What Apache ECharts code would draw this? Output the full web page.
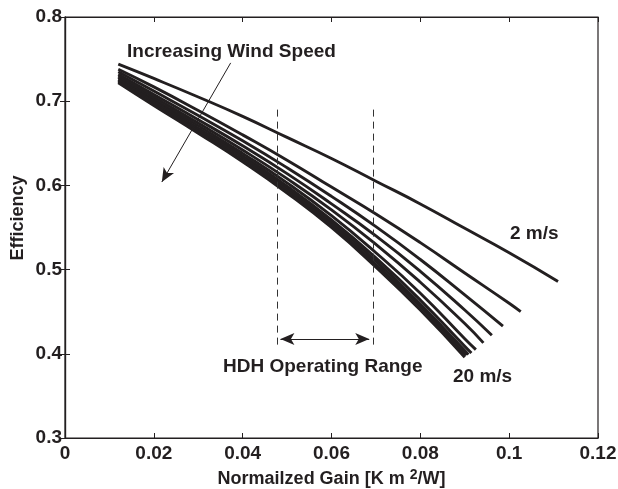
<!DOCTYPE html>
<html>
<head>
<meta charset="utf-8">
<script src="https://cdn.jsdelivr.net/npm/echarts@6/dist/echarts.min.js"></script>
<style>
  html, body { margin: 0; padding: 0; background: #fff; }
  #chart { width: 618px; height: 489px; }
</style>
</head>
<body>
<div id="chart"></div>
<script>
const gain = [0.012, 0.02, 0.03, 0.04, 0.05, 0.06, 0.07, 0.08, 0.09, 0.10]
const windSpeeds = ['2 m/s', '4 m/s', '6 m/s', '8 m/s', '10 m/s', '12 m/s', '14 m/s', '16 m/s', '18 m/s', '20 m/s']
const eff2 = [0.744, 0.727, 0.705, 0.682, 0.657, 0.632, 0.605, 0.578, 0.549, 0.520]
const eff4 = [0.738, 0.717, 0.689, 0.660, 0.630, 0.598, 0.566, 0.532, 0.496, 0.460]
const eff6 = [0.735, 0.712, 0.683, 0.653, 0.621, 0.587, 0.551, 0.512, 0.470]
const eff8 = [0.732, 0.708, 0.678, 0.647, 0.614, 0.578, 0.540, 0.498, 0.452]
const eff10 = [0.730, 0.705, 0.674, 0.642, 0.608, 0.571, 0.530, 0.485, 0.436]
const eff12 = [0.728, 0.702, 0.671, 0.638, 0.603, 0.564, 0.520, 0.472, 0.418]
const eff14 = [0.726, 0.700, 0.668, 0.635, 0.599, 0.559, 0.514, 0.464, 0.409]
const eff16 = [0.725, 0.699, 0.666, 0.633, 0.596, 0.556, 0.510, 0.459, 0.404]
const eff18 = [0.723, 0.697, 0.664, 0.630, 0.594, 0.553, 0.506, 0.456, 0.400]
const eff20 = [0.722, 0.695, 0.662, 0.628, 0.591, 0.550, 0.503, 0.452]
// last point of every curve
const endGain = [0.111, 0.1026, 0.0986, 0.0961, 0.0942, 0.0925, 0.0915, 0.0908, 0.0903, 0.090]
const endEff = [0.486, 0.450, 0.433, 0.422, 0.413, 0.405, 0.401, 0.399, 0.398, 0.396]
// HDH operating range
const rangeLo = 0.0477
const rangeHi = 0.0693

const allEff = [eff2, eff4, eff6, eff8, eff10, eff12, eff14, eff16, eff18, eff20]
const ink = '#231f20'
const font = "'Liberation Sans', Arial, Helvetica, sans-serif"

const chart = echarts.init(document.getElementById('chart'))

const curves = allEff.map((eff, k) => {
  const data = eff.map((v, i) => [gain[i], v])
  data.push([endGain[k], endEff[k]])
  return {
    name: windSpeeds[k],
    type: 'line',
    data: data,
    smooth: true,
    showSymbol: false,
    symbol: 'none',
    lineStyle: { color: ink, width: 2.9 },
    z: 3
  }
})

const markers = {
  type: 'line',
  data: [],
  markLine: {
    silent: true,
    animation: false,
    label: { show: false },
    symbol: ['none', 'none'],
    lineStyle: { color: '#333', width: 1, type: [7, 5] },
    data: [
      [{ coord: [rangeLo, 0.69] }, { coord: [rangeLo, 0.407] }],
      [{ coord: [rangeHi, 0.69] }, { coord: [rangeHi, 0.407] }]
    ]
  }
}

const arrows = {
  type: 'line',
  data: [],
  markLine: {
    silent: true,
    animation: false,
    label: { show: false },
    symbol: ['arrow', 'arrow'],
    symbolSize: [9, 14],
    lineStyle: { color: ink, width: 1, type: 'solid' },
    data: [
      [{ coord: [0.0485, 0.4176] }, { coord: [0.0685, 0.4176] }],
      [{ coord: [0.0373, 0.7455], symbol: 'none' }, { coord: [0.0218, 0.604], symbol: 'arrow' }]
    ]
  }
}

const txt = (text, x, y) => ({
  type: 'text',
  x: x,
  y: y,
  style: { text: text, font: 'bold 19px ' + font, fill: ink, textVerticalAlign: 'middle' }
})

chart.setOption({
  animation: false,
  grid: {
    left: 65, right: 20, top: 17, bottom: 51,
    outerBoundsMode: 'none',
    show: true, borderColor: ink, borderWidth: 1.2
  },
  xAxis: [{
    type: 'value',
    min: 0,
    max: 0.12,
    interval: 0.02,
    name: 'Normailzed Gain [K m {sup|2}/W]',
    nameLocation: 'middle',
    nameGap: 30,
    nameTextStyle: {
      color: ink, fontSize: 18, fontWeight: 'bold', fontFamily: font,
      rich: { sup: { fontSize: 14, fontWeight: 'bold', fontFamily: font, color: ink, padding: [0, 0, 9, 0] } }
    },
    axisLine: { lineStyle: { color: ink, width: 1.2 } },
    axisTick: { inside: true, length: 5, lineStyle: { color: ink } },
    axisLabel: { color: ink, fontSize: 19, fontWeight: 'bold', fontFamily: font, margin: 6 },
    splitLine: { show: false }
  }, {
    type: 'value',
    position: 'top',
    min: 0,
    max: 0.12,
    interval: 0.02,
    axisLine: { lineStyle: { color: ink, width: 1.2 } },
    axisTick: { inside: true, length: 5, lineStyle: { color: ink } },
    axisLabel: { show: false },
    splitLine: { show: false }
  }],
  yAxis: [{
    type: 'value',
    min: 0.3,
    max: 0.8,
    interval: 0.1,
    axisLine: { show: true, lineStyle: { color: ink, width: 1.2 } },
    axisTick: { show: true, inside: true, length: 5, lineStyle: { color: ink } },
    axisLabel: { color: ink, fontSize: 19, fontWeight: 'bold', fontFamily: font, margin: 3 },
    splitLine: { show: false }
  }, {
    type: 'value',
    position: 'right',
    min: 0.3,
    max: 0.8,
    interval: 0.1,
    axisLine: { show: true, lineStyle: { color: ink, width: 1.2 } },
    axisTick: { show: true, inside: true, length: 5, lineStyle: { color: ink } },
    axisLabel: { show: false },
    splitLine: { show: false }
  }],
  graphic: [
    txt('Increasing Wind Speed', 127, 52),
    txt('2 m/s', 510, 234),
    txt('20 m/s', 453, 377),
    txt('HDH Operating Range', 223, 367),
    {
      type: 'text',
      x: 18,
      y: 218,
      rotation: Math.PI / 2,
      style: { text: 'Efficiency', font: 'bold 18px ' + font, fill: ink, textAlign: 'center', textVerticalAlign: 'middle' }
    }
  ],
  series: curves.concat([markers, arrows])
})
</script>
</body>
</html>
